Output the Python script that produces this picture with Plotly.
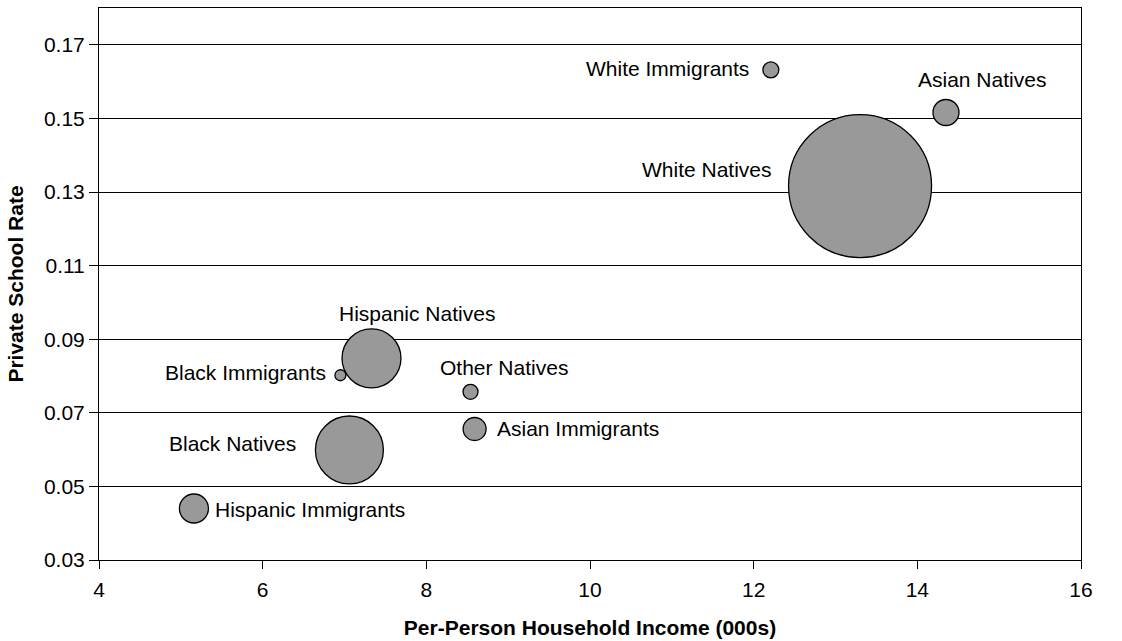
import plotly.graph_objects as go

groups = ["White Immigrants", "Asian Natives", "White Natives", "Hispanic Natives",
          "Black Immigrants", "Other Natives", "Asian Immigrants", "Black Natives",
          "Hispanic Immigrants"]
income = [12.21, 14.35, 13.30, 7.33, 6.95, 8.54, 8.59, 7.06, 5.16]
private_rate = [0.1632, 0.1516, 0.1316, 0.0848, 0.0802, 0.0757, 0.0656, 0.0599, 0.0440]
population = [1.25, 3.31, 100.0, 17.0, 0.59, 1.10, 2.59, 22.6, 4.11]

# label placement (style): xanchor, xshift, yshift in pixels relative to bubble centre
label_style = {
    "White Immigrants": ("right", -22, 1),
    "Asian Natives": ("left", -28, 33),
    "White Natives": ("right", -88, 17),
    "Hispanic Natives": ("left", -33, 45),
    "Black Immigrants": ("right", -14, 3),
    "Other Natives": ("left", -31, 24),
    "Asian Immigrants": ("left", 22, 0),
    "Black Natives": ("right", -53, 6),
    "Hispanic Immigrants": ("left", 21, -1),
}

FONT = "Liberation Sans, Arial, sans-serif"
FS = 21
max_diam = 143
sizeref = 2 * max(population) / (max_diam ** 2)

fig = go.Figure()
fig.add_trace(go.Scatter(
    x=income, y=private_rate, mode="markers",
    marker=dict(size=population, sizemode="area", sizeref=sizeref,
                color="#999999", line=dict(color="black", width=1.3), opacity=1),
    text=groups, hoverinfo="text", showlegend=False,
))

for g, xv, yv in zip(groups, income, private_rate):
    xa, xs, ys = label_style[g]
    fig.add_annotation(x=xv, y=yv, text=g, showarrow=False, xanchor=xa, yanchor="middle",
                       xshift=xs, yshift=ys, borderpad=0, borderwidth=0,
                       font=dict(family=FONT, size=FS, color="black"))

fig.update_layout(
    width=1122, height=641,
    margin=dict(l=99, r=41, t=8, b=81, autoexpand=False),
    paper_bgcolor="white", plot_bgcolor="white",
    font=dict(family=FONT, size=FS, color="black"),
    xaxis=dict(range=[4, 16], dtick=2, tick0=4, showgrid=False, zeroline=False,
               showline=True, linecolor="black", linewidth=1, mirror=True,
               ticks="outside", ticklen=8, tickcolor="black", automargin=False,
               ticklabelstandoff=3,
               title=dict(text="<b>Per-Person Household Income (000s)</b>",
                          font=dict(family=FONT, size=FS), standoff=20),
               tickfont=dict(family=FONT, size=FS)),
    yaxis=dict(range=[0.03, 0.18], tickvals=[0.03, 0.05, 0.07, 0.09, 0.11, 0.13, 0.15, 0.17],
               ticktext=["0.03", "0.05", "0.07", "0.09", "0.11", "0.13", "0.15", "0.17"],
               showgrid=True, gridcolor="black", gridwidth=1, zeroline=False,
               showline=True, linecolor="black", linewidth=1, mirror=True,
               ticks="outside", ticklen=9, tickcolor="black", automargin=False,
               title=dict(text="<b>Private School Rate</b>",
                          font=dict(family=FONT, size=FS), standoff=14),
               tickfont=dict(family=FONT, size=FS)),
)

fig.write_html("out.html", config={"displayModeBar": False},
               post_script="document.body.style.margin='0px';")
